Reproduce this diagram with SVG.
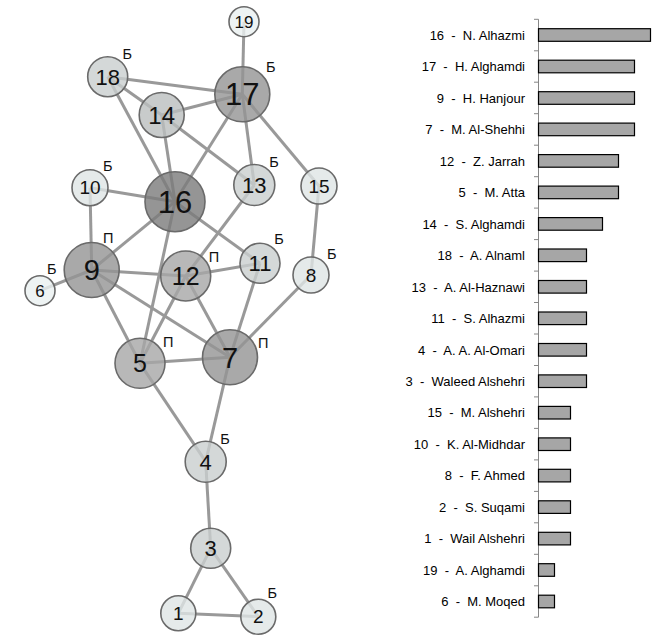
<svg xmlns="http://www.w3.org/2000/svg" width="672" height="640" viewBox="0 0 672 640">
<style>
text{font-family:"Liberation Sans",Arial,sans-serif;}
.e line{stroke:#999;stroke-width:3;}
.nd circle{stroke:#6a6a6a;stroke-width:1.6;fill-opacity:0.8;}
.nd text{text-anchor:middle;fill:#111;}
.d1{fill:#eaf0f0}.d2{fill:#dfe5e5}.d3{fill:#c9cece}.d4{fill:#babebe}.d5{fill:#a6a6a6}.d6{fill:#939393}.d7{fill:#7a7a7a}
.f1{font-size:17px}.f2{font-size:19px}.f3{font-size:22px}.f4{font-size:24px}.f5{font-size:25px}.f6{font-size:29px}.f7{font-size:31px}
.tag{font-size:14.5px;fill:#222;text-anchor:middle;}
.lbl{font-size:13px;fill:#000;text-anchor:end;white-space:pre;}
.bar{fill:#a6a6a6;stroke:#000;stroke-width:1.2;}
.ax{stroke:#868686;stroke-width:1;}
</style>
<rect width="672" height="640" fill="#fff"/>
<g id="connectors" class="e">
<line x1="244" y1="21.7" x2="242.3" y2="94.3"/>
<line x1="107.7" y1="76.7" x2="242.3" y2="94.3"/>
<line x1="107.7" y1="76.7" x2="161.7" y2="115"/>
<line x1="107.7" y1="76.7" x2="175" y2="201.7"/>
<line x1="161.7" y1="115" x2="242.3" y2="94.3"/>
<line x1="161.7" y1="115" x2="175" y2="201.7"/>
<line x1="161.7" y1="115" x2="254.3" y2="185"/>
<line x1="242.3" y1="94.3" x2="175" y2="201.7"/>
<line x1="242.3" y1="94.3" x2="254.3" y2="185"/>
<line x1="242.3" y1="94.3" x2="319" y2="186"/>
<line x1="90" y1="187.7" x2="175" y2="201.7"/>
<line x1="90" y1="187.7" x2="91.7" y2="270"/>
<line x1="175" y1="201.7" x2="91.7" y2="270"/>
<line x1="175" y1="201.7" x2="260" y2="263.3"/>
<line x1="175" y1="201.7" x2="140" y2="363.3"/>
<line x1="254.3" y1="185" x2="185.7" y2="276"/>
<line x1="319" y1="186" x2="311" y2="275"/>
<line x1="91.7" y1="270" x2="40" y2="290.7"/>
<line x1="91.7" y1="270" x2="185.7" y2="276"/>
<line x1="91.7" y1="270" x2="140" y2="363.3"/>
<line x1="91.7" y1="270" x2="230" y2="357.3"/>
<line x1="185.7" y1="276" x2="260" y2="263.3"/>
<line x1="185.7" y1="276" x2="140" y2="363.3"/>
<line x1="185.7" y1="276" x2="230" y2="357.3"/>
<line x1="260" y1="263.3" x2="230" y2="357.3"/>
<line x1="311" y1="275" x2="230" y2="357.3"/>
<line x1="140" y1="363.3" x2="230" y2="357.3"/>
<line x1="140" y1="363.3" x2="205.7" y2="461.7"/>
<line x1="230" y1="357.3" x2="205.7" y2="461.7"/>
<line x1="205.7" y1="461.7" x2="210.7" y2="548.3"/>
<line x1="210.7" y1="548.3" x2="178.3" y2="613.3"/>
<line x1="210.7" y1="548.3" x2="258.3" y2="616.7"/>
<line x1="178.3" y1="613.3" x2="258.3" y2="616.7"/>
</g>
<g class="nd">
<g id="n1"><circle class="d2" cx="178.3" cy="613.3" r="17.5"/><text class="f2" x="178.3" y="620">1</text></g>
<g id="n2"><circle class="d2" cx="258.3" cy="616.7" r="17.5"/><text class="f2" x="258.3" y="623.4">2</text><text class="tag" x="272.3" y="597.7">Б</text></g>
<g id="n3"><circle class="d3" cx="210.7" cy="548.3" r="20"/><text class="f3" x="210.7" y="556.1">3</text></g>
<g id="n4"><circle class="d3" cx="205.7" cy="461.7" r="20.5"/><text class="f3" x="205.7" y="469.5">4</text><text class="tag" x="225" y="444">Б</text></g>
<g id="n5"><circle class="d5" cx="140" cy="363.3" r="25"/><text class="f5" x="140" y="372.2">5</text><text class="tag" x="168.3" y="346.7">П</text></g>
<g id="n6"><circle class="d1" cx="40" cy="290.7" r="15"/><text class="f1" x="40" y="296.7">6</text><text class="tag" x="51.7" y="274.3">Б</text></g>
<g id="n7"><circle class="d6" cx="230" cy="357.3" r="27.5"/><text class="f6" x="230" y="367.6">7</text><text class="tag" x="263.3" y="347.7">П</text></g>
<g id="n8"><circle class="d2" cx="311" cy="275" r="18"/><text class="f2" x="311" y="281.7">8</text><text class="tag" x="331.7" y="259">Б</text></g>
<g id="n9"><circle class="d6" cx="91.7" cy="270" r="27.5"/><text class="f6" x="91.7" y="280.3">9</text><text class="tag" x="108.3" y="242.7">П</text></g>
<g id="n10"><circle class="d2" cx="90" cy="187.7" r="18"/><text class="f2" x="90" y="194.4">10</text><text class="tag" x="107.7" y="170.7">Б</text></g>
<g id="n11"><circle class="d3" cx="260" cy="263.3" r="20"/><text class="f3" x="260" y="271.1">11</text><text class="tag" x="279" y="244.3">Б</text></g>
<g id="n12"><circle class="d5" cx="185.7" cy="276" r="25"/><text class="f5" x="185.7" y="284.9">12</text><text class="tag" x="214" y="262.3">П</text></g>
<g id="n13"><circle class="d3" cx="254.3" cy="185" r="20.5"/><text class="f3" x="254.3" y="192.8">13</text><text class="tag" x="274" y="166.7">Б</text></g>
<g id="n14"><circle class="d4" cx="161.7" cy="115" r="22.5"/><text class="f4" x="161.7" y="123.5">14</text></g>
<g id="n15"><circle class="d2" cx="319" cy="186" r="18"/><text class="f2" x="319" y="192.7">15</text></g>
<g id="n16"><circle class="d7" cx="175" cy="201.7" r="30"/><text class="f7" x="175" y="212.7">16</text></g>
<g id="n17"><circle class="d6" cx="242.3" cy="94.3" r="27.5"/><text class="f7" x="242.3" y="105.3">17</text><text class="tag" x="270.7" y="71.7">Б</text></g>
<g id="n18"><circle class="d3" cx="107.7" cy="76.7" r="20"/><text class="f3" x="107.7" y="84.5">18</text><text class="tag" x="127.3" y="59">Б</text></g>
<g id="n19"><circle class="d1" cx="244" cy="21.7" r="15"/><text class="f1" x="244" y="27.7">19</text></g>
</g>
<g id="chart">
<line class="ax" x1="538.5" y1="19.3" x2="538.5" y2="617.2"/>
<path class="ax" fill="none" d="M534 19.3H538.5M534 50.8H538.5M534 82.2H538.5M534 113.7H538.5M534 145.2H538.5M534 176.7H538.5M534 208.1H538.5M534 239.6H538.5M534 271.1H538.5M534 302.5H538.5M534 334H538.5M534 365.5H538.5M534 396.9H538.5M534 428.4H538.5M534 459.9H538.5M534 491.4H538.5M534 522.8H538.5M534 554.3H538.5M534 585.8H538.5M534 617.2H538.5"/>
<rect class="bar" x="538.5" y="28.7" width="112" height="12.6"/>
<rect class="bar" x="538.5" y="60.2" width="96" height="12.6"/>
<rect class="bar" x="538.5" y="91.7" width="96" height="12.6"/>
<rect class="bar" x="538.5" y="123.1" width="96" height="12.6"/>
<rect class="bar" x="538.5" y="154.6" width="80" height="12.6"/>
<rect class="bar" x="538.5" y="186.1" width="80" height="12.6"/>
<rect class="bar" x="538.5" y="217.6" width="64" height="12.6"/>
<rect class="bar" x="538.5" y="249" width="48" height="12.6"/>
<rect class="bar" x="538.5" y="280.5" width="48" height="12.6"/>
<rect class="bar" x="538.5" y="312" width="48" height="12.6"/>
<rect class="bar" x="538.5" y="343.5" width="48" height="12.6"/>
<rect class="bar" x="538.5" y="374.9" width="48" height="12.6"/>
<rect class="bar" x="538.5" y="406.4" width="32" height="12.6"/>
<rect class="bar" x="538.5" y="437.9" width="32" height="12.6"/>
<rect class="bar" x="538.5" y="469.3" width="32" height="12.6"/>
<rect class="bar" x="538.5" y="500.8" width="32" height="12.6"/>
<rect class="bar" x="538.5" y="532.3" width="32" height="12.6"/>
<rect class="bar" x="538.5" y="563.7" width="16" height="12.6"/>
<rect class="bar" x="538.5" y="595.2" width="16" height="12.6"/>
<text class="lbl" xml:space="preserve" x="525" y="39.7">16  -  N. Alhazmi</text>
<text class="lbl" xml:space="preserve" x="525" y="71.2">17  -  H. Alghamdi</text>
<text class="lbl" xml:space="preserve" x="525" y="102.7">9  -  H. Hanjour</text>
<text class="lbl" xml:space="preserve" x="525" y="134.1">7  -  M. Al-Shehhi</text>
<text class="lbl" xml:space="preserve" x="525" y="165.6">12  -  Z. Jarrah</text>
<text class="lbl" xml:space="preserve" x="525" y="197.1">5  -  M. Atta</text>
<text class="lbl" xml:space="preserve" x="525" y="228.6">14  -  S. Alghamdi</text>
<text class="lbl" xml:space="preserve" x="525" y="260">18  -  A. Alnaml</text>
<text class="lbl" xml:space="preserve" x="525" y="291.5">13  -  A. Al-Haznawi</text>
<text class="lbl" xml:space="preserve" x="525" y="323">11  -  S. Alhazmi</text>
<text class="lbl" xml:space="preserve" x="525" y="354.5">4  -  A. A. Al-Omari</text>
<text class="lbl" xml:space="preserve" x="525" y="385.9">3  -  Waleed Alshehri</text>
<text class="lbl" xml:space="preserve" x="525" y="417.4">15  -  M. Alshehri</text>
<text class="lbl" xml:space="preserve" x="525" y="448.9">10  -  K. Al-Midhdar</text>
<text class="lbl" xml:space="preserve" x="525" y="480.3">8  -  F. Ahmed</text>
<text class="lbl" xml:space="preserve" x="525" y="511.8">2  -  S. Suqami</text>
<text class="lbl" xml:space="preserve" x="525" y="543.3">1  -  Wail Alshehri</text>
<text class="lbl" xml:space="preserve" x="525" y="574.7">19  -  A. Alghamdi</text>
<text class="lbl" xml:space="preserve" x="525" y="606.2">6  -  M. Moqed</text>
</g>
</svg>
